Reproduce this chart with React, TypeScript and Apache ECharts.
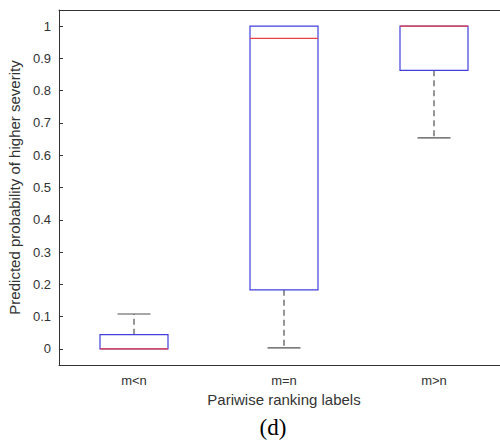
import React, { useEffect, useRef } from "react";
import * as echarts from "echarts";

const categories = ["m<n", "m=n", "m>n"];
const whiskerLow = [0, 0.003, 0.654];
const quartile1 = [0, 0.183, 0.863];
const medians = [0, 0.962, 1.0];
const quartile3 = [0.044, 1.0, 1.0];
const whiskerHigh = [0.108, 1.0, 1.0];
const yTicks = [0, 0.1, 0.2, 0.3, 0.4, 0.5, 0.6, 0.7, 0.8, 0.9, 1];

const FONT = '"Liberation Sans", Arial, Helvetica, sans-serif';
const BLUE = "#4040dc";
const RED = "#ee4040";
const WHISK = "#505050";
const AXIS = "#333333";

export default function App() {
  const ref = useRef<HTMLDivElement>(null);
  useEffect(() => {
    if (!ref.current) return;
    const chart = echarts.init(ref.current, undefined, { renderer: "svg" });
    const data = categories.map((_, i) => [
      i,
      whiskerLow[i],
      quartile1[i],
      medians[i],
      quartile3[i],
      whiskerHigh[i],
    ]);
    const renderItem = (params: any, api: any) => {
      const idx = api.value(0);
      const lo = api.coord([idx, api.value(1)]);
      const b1 = api.coord([idx, api.value(2)]);
      const md = api.coord([idx, api.value(3)]);
      const b3 = api.coord([idx, api.value(4)]);
      const hi = api.coord([idx, api.value(5)]);
      const cx = lo[0];
      const halfBox = 34;
      const halfCap = 16.5;
      const children: any[] = [];
      if (api.value(1) < api.value(2)) {
        children.push({
          type: "line",
          shape: { x1: cx, y1: b1[1], x2: cx, y2: lo[1] },
          style: { stroke: WHISK, lineWidth: 1.2, lineDash: [6, 4] },
        });
        children.push({
          type: "line",
          shape: { x1: cx - halfCap, y1: lo[1], x2: cx + halfCap, y2: lo[1] },
          style: { stroke: WHISK, lineWidth: 1.2 },
        });
      }
      if (api.value(5) > api.value(4)) {
        children.push({
          type: "line",
          shape: { x1: cx, y1: b3[1], x2: cx, y2: hi[1] },
          style: { stroke: WHISK, lineWidth: 1.2, lineDash: [6, 4] },
        });
        children.push({
          type: "line",
          shape: { x1: cx - halfCap, y1: hi[1], x2: cx + halfCap, y2: hi[1] },
          style: { stroke: WHISK, lineWidth: 1.2 },
        });
      }
      children.push({
        type: "rect",
        shape: { x: cx - halfBox, y: b3[1], width: halfBox * 2, height: b1[1] - b3[1] },
        style: { fill: "none", stroke: BLUE, lineWidth: 1.2 },
      });
      children.push({
        type: "line",
        shape: { x1: cx - halfBox, y1: md[1], x2: cx + halfBox, y2: md[1] },
        style: { stroke: RED, lineWidth: 1.2 },
      });
      return { type: "group", children };
    };
    chart.setOption({
      animation: false,
      backgroundColor: "#ffffff",
      grid: { left: 59, top: 10, width: 450, height: 355, outerBoundsMode: "none", containLabel: false },
      xAxis: [
        {
          type: "category",
          data: categories,
          position: "bottom",
          boundaryGap: true,
          axisLine: { onZero: false, lineStyle: { color: AXIS, width: 1 } },
          axisTick: { alignWithLabel: true, inside: true, length: 4, lineStyle: { color: AXIS } },
          axisLabel: { fontSize: 13, color: "#333", margin: 9, fontFamily: FONT },
          splitLine: { show: false },
          name: "Pariwise ranking labels",
          nameLocation: "middle",
          nameGap: 27,
          nameTextStyle: { fontSize: 15, color: "#333", fontFamily: FONT },
        },
        {
          type: "category",
          data: categories,
          position: "top",
          boundaryGap: true,
          axisLine: { onZero: false, lineStyle: { color: AXIS, width: 1 } },
          axisTick: { alignWithLabel: true, inside: true, length: 4, lineStyle: { color: AXIS } },
          axisLabel: { show: false },
          splitLine: { show: false },
        },
      ],
      yAxis: {
        type: "value",
        min: -0.05,
        max: 1.05,
        axisLine: { show: true, onZero: false, lineStyle: { color: AXIS, width: 1 } },
        axisTick: { show: true, inside: true, length: 4, customValues: yTicks, lineStyle: { color: AXIS } },
        axisLabel: {
          customValues: yTicks,
          fontSize: 13,
          color: "#333",
          margin: 8,
          fontFamily: FONT,
          formatter: (v: number) => String(v),
        },
        splitLine: { show: false },
        name: "Predicted probability of higher severity",
        nameLocation: "middle",
        nameGap: 33,
        nameTextStyle: { fontSize: 15, color: "#333", fontFamily: FONT },
      },
      graphic: [
        {
          type: "text",
          x: 273,
          y: 427,
          style: {
            text: "(d)",
            fontSize: 23,
            fontFamily: '"Liberation Serif", "Times New Roman", serif',
            fill: "#000",
            align: "center",
            verticalAlign: "middle",
          },
        },
      ],
      series: [
        {
          type: "custom",
          xAxisIndex: 0,
          yAxisIndex: 0,
          renderItem,
          encode: { x: 0, y: [1, 2, 3, 4, 5] },
          data,
          clip: false,
        },
      ],
    });
    return () => chart.dispose();
  }, []);
  return (
    <div
      ref={ref}
      style={{ position: "fixed", left: 0, top: 0, width: 500, height: 440, background: "#fff" }}
    />
  );
}
